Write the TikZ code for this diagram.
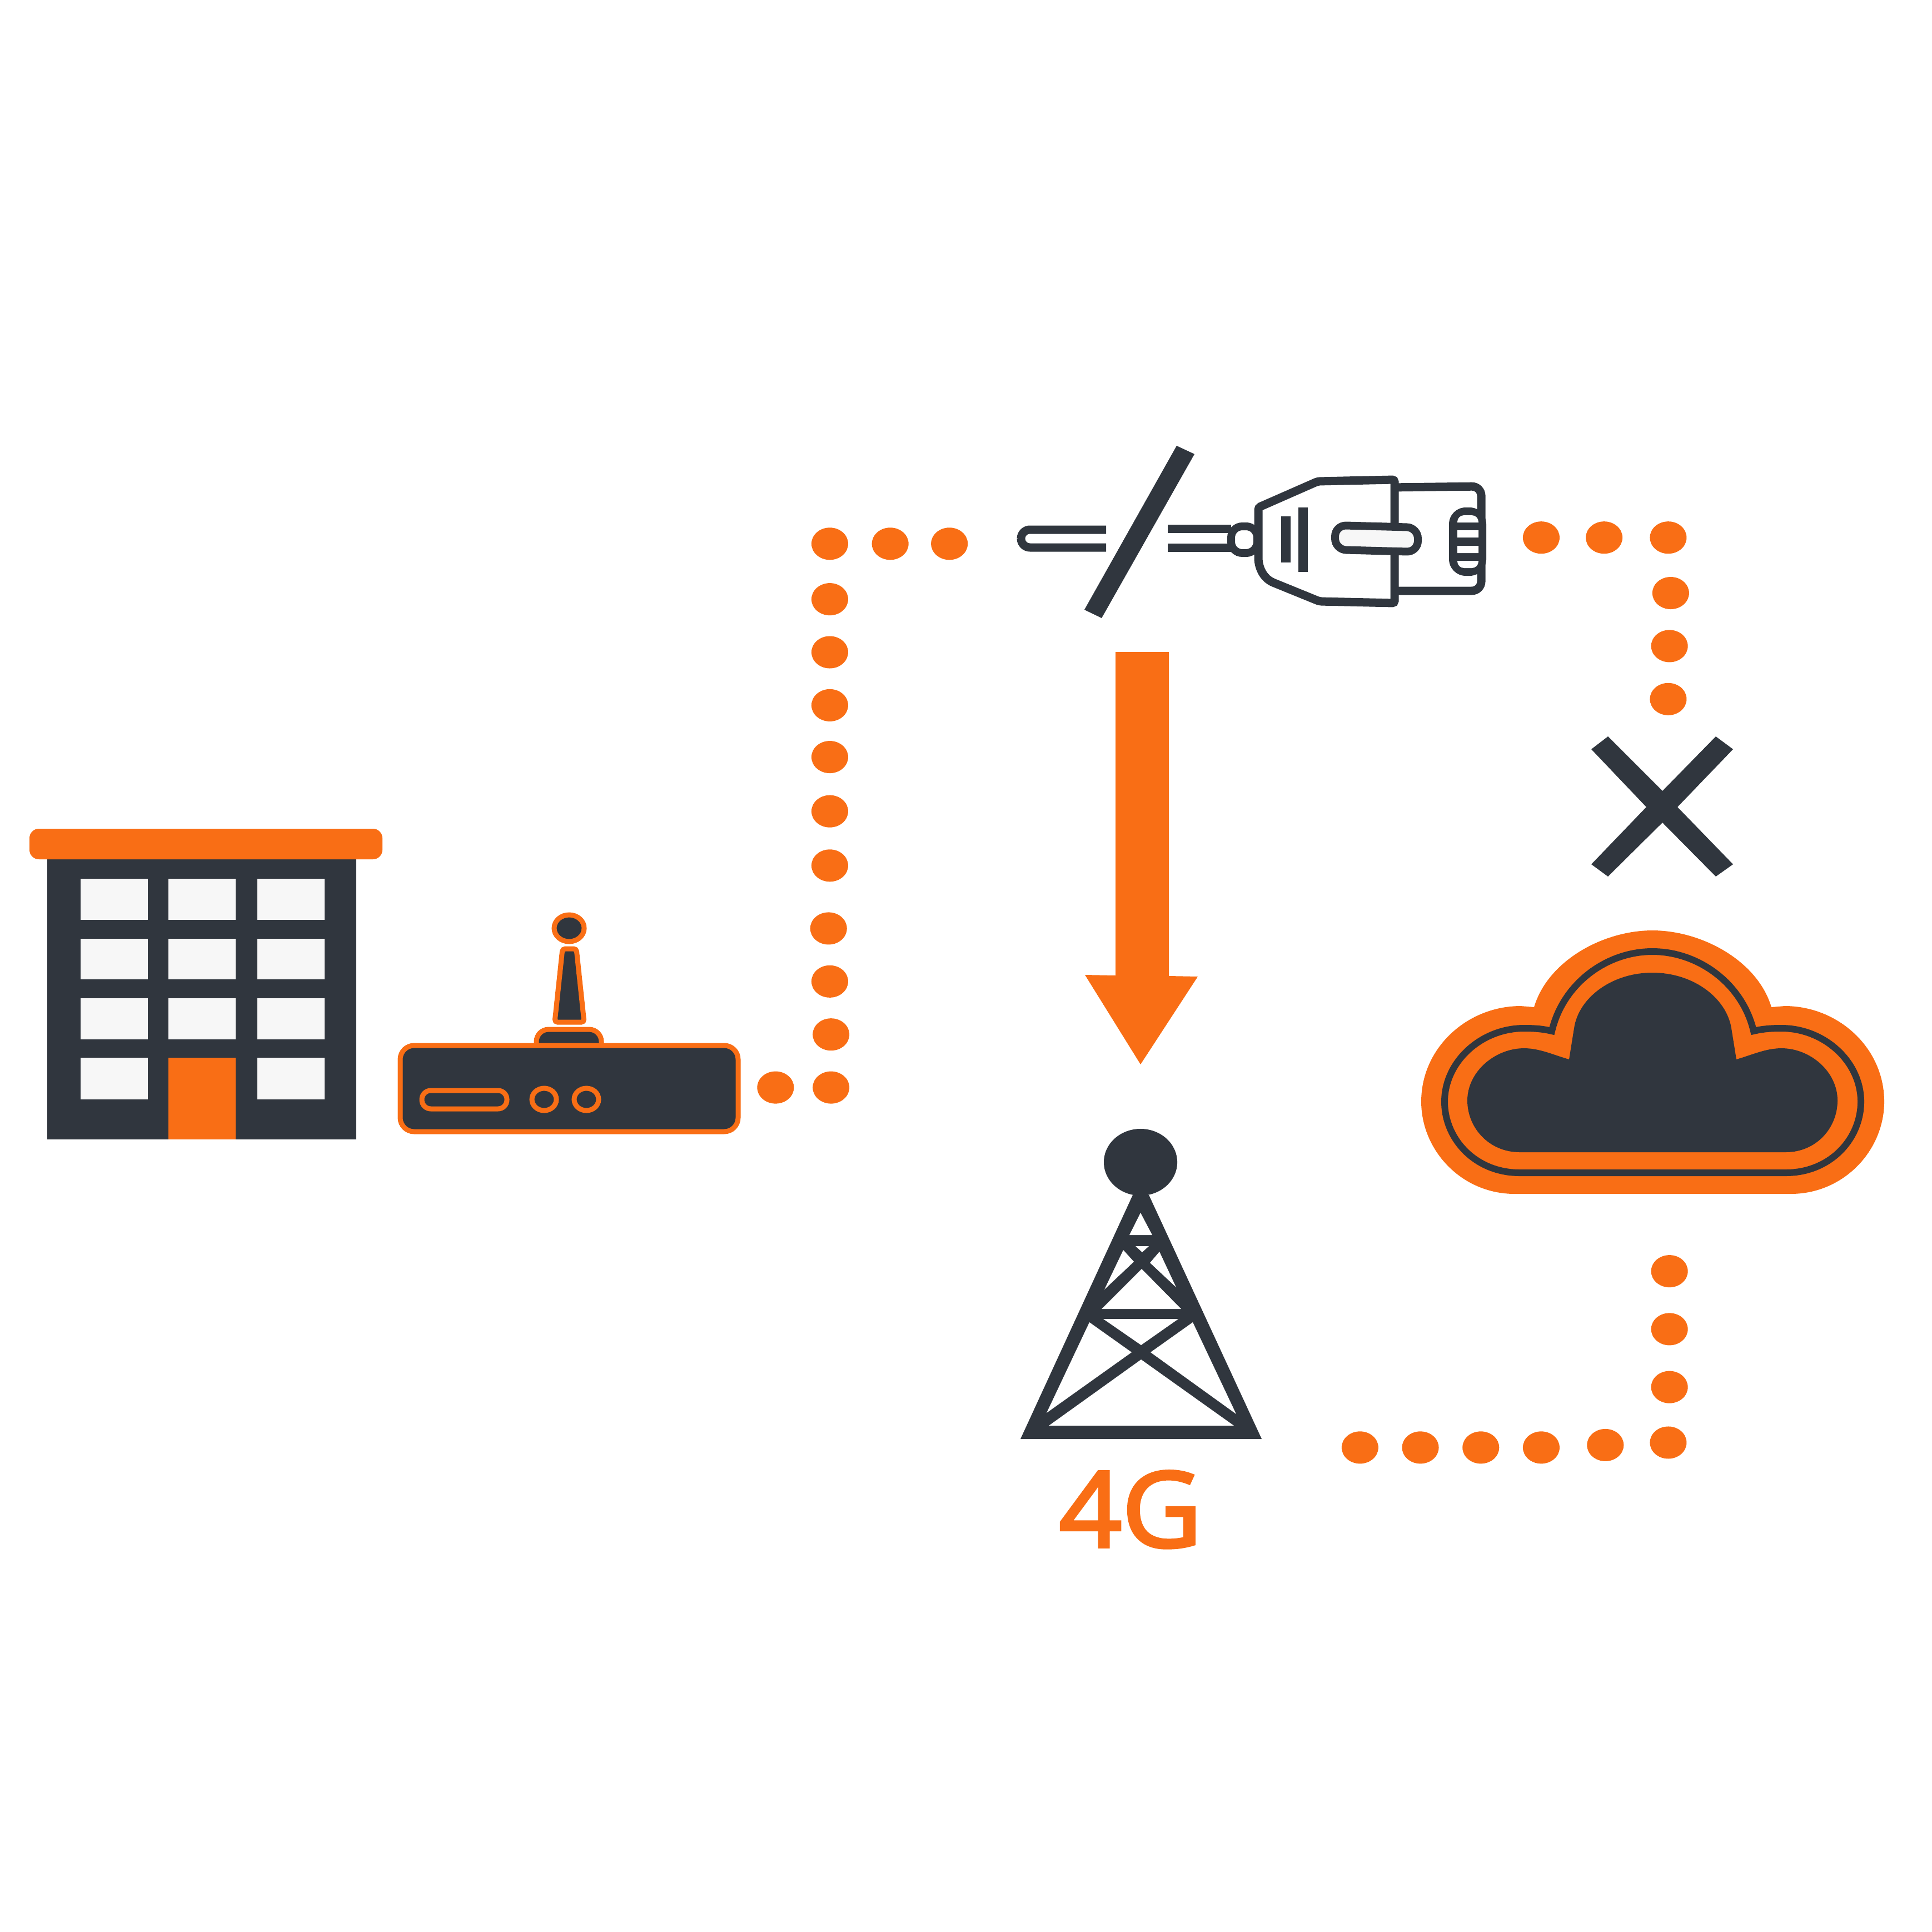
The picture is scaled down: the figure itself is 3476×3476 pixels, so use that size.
\documentclass[tikz,border=0pt]{standalone}
\usepackage{fontspec}
\newfontfamily\labelfont[FakeBold=3,FakeStretch=1.05]{Open Sans}
\definecolor{orng}{HTML}{F96E15}
\definecolor{drk}{HTML}{30363E}
\definecolor{pane}{HTML}{F7F7F7}
\tikzset{
  rout/.style={draw=orng,fill=drk,line width=0.09cm},
  plugline/.style={draw=drk,line width=0.15cm},
  dotmark/.style={fill=orng}
}
\begin{document}
\begin{tikzpicture}[x=0.01cm,y=-0.01cm]
\useasboundingbox (0,0) rectangle (3476,3476);
% building
\fill[drk] (85,1546) rectangle (641,2050);
\fill[orng,rounded corners=0.17cm] (53,1491) rectangle (688,1546);
\foreach \xa/\xb in {145/266,303/424,463/584}
  \foreach \ya/\yb in {1581/1655,1689/1762,1796/1870,1903/1978}
    \fill[pane] (\xa,\ya) rectangle (\xb,\yb);
\fill[orng] (303,1903) rectangle (424,2050);
% router
\draw[rout,rounded corners=0.22cm] (965,1885)--(965,1852)--(1082,1852)--(1082,1885);
\draw[rout,rounded corners=0.25cm] (720,1881) rectangle (1328,2036);
\draw[rout,rounded corners=0.16cm] (759,1962) rectangle (912,1995);
\draw[rout] (979,1978) ellipse (0.22cm and 0.20cm);
\draw[rout] (1055,1978) ellipse (0.22cm and 0.20cm);
\draw[rout] (1024,1670) ellipse (0.27cm and 0.24cm);
\draw[rout,rounded corners=0.05cm] (1012,1707)--(1037,1707)--(1051,1839)--(998,1839)--cycle;
% dots
\begin{scope}[x=0.02217cm,y=-0.02217cm]
\foreach \dx/\dy in {629/882,674/882,674/839,673/796,672/753,673/702,673/658,673/614,673/572,673/529,673/486,673/441,722/441,770/441,
  1250/436,1301/436,1353/436,1355/481,1354/524,1353/567,
  1103/1174,1152/1174,1201/1174,1250/1174,1302/1172,1353/1170,1354/1125,1354/1078,1354/1031}
  \fill[dotmark] (\dx,\dy) ellipse (0.33cm and 0.29cm);
\end{scope}
% slash
\fill[drk] (2117,802)--(2149,817)--(1982,1112)--(1951,1097)--cycle;
% cables
\draw[plugline,rounded corners=0.16cm] (1990,953)--(1837,953)--(1837,985)--(1990,985);
\draw[plugline] (2101,951)--(2215,951) (2101,985)--(2215,985);
% plug head
\draw[plugline,fill=white,rounded corners=0.17cm] (2500,877)--(2665,875)--(2665,1063)--(2500,1063);
\fill[drk,rounded corners=0.3cm] (2607,913) rectangle (2674,1036);
\fill[white] (2622,954) rectangle (2660,967) (2622,982) rectangle (2660,995);
\fill[white,rounded corners=0.12cm] (2622,940)--(2622,927)--(2660,927)[sharp corners]--(2660,940)--cycle;
\fill[white,rounded corners=0.12cm] (2622,1009)--(2622,1022)--(2660,1022)[sharp corners]--(2660,1009)--cycle;
% plug body
\draw[plugline,fill=white,rounded corners=0.04cm] (2264,913)--(2264,1000) .. controls (2264,1020) and (2272,1037) .. (2288,1047)--(2374,1082)--(2509,1085)--(2509,863)--(2371,866)--cycle;
\draw[plugline,line width=0.14cm,fill=white,rounded corners=0.2cm] (2215,947) rectangle (2262,995);
\draw[drk,line width=0.17cm] (2313,929)--(2313,1012) (2344,913)--(2344,1029);
\draw[plugline,line width=0.14cm,fill=pane,rounded corners=0.2cm] (2402,945)--(2551,949)--(2551,993)--(2402,989)--cycle;
% big arrow
\fill[orng] (2007,1173)--(2103,1173)--(2103,1756)--(2155,1757)--(2052,1915)--(1952,1754)--(2007,1755)--cycle;
% cross
\fill[drk] (2893,1325)--(2991,1423)--(3087,1325)--(3118,1348)--(3018,1452)--(3118,1555)--(3087,1577)--(2991,1480)--(2893,1577)--(2863,1555)--(2962,1452)--(2863,1348)--cycle;
% cloud
\fill[orng] (2725,2148) .. controls (2630,2148) and (2557,2070) .. (2557,1982)
  .. controls (2557,1885) and (2640,1810) .. (2736,1810) -- (2760,1812)
  .. controls (2785,1728) and (2885,1674) .. (2973,1674)
  .. controls (3061,1674) and (3162,1728) .. (3187,1812) -- (3211,1810)
  .. controls (3307,1810) and (3390,1885) .. (3390,1982)
  .. controls (3390,2070) and (3317,2148) .. (3222,2148) -- cycle;
\draw[draw=drk,fill=orng,line width=0.12cm] (2734,2110) .. controls (2655,2110) and (2599,2050) .. (2599,1982)
  .. controls (2599,1910) and (2665,1850) .. (2742,1850) .. controls (2760,1850) and (2775,1851) .. (2792,1855)
  .. controls (2812,1770) and (2890,1712) .. (2973,1712)
  .. controls (3056,1712) and (3135,1770) .. (3155,1855)
  .. controls (3172,1851) and (3187,1850) .. (3205,1850)
  .. controls (3282,1850) and (3348,1910) .. (3348,1982)
  .. controls (3348,2050) and (3292,2110) .. (3213,2110) -- cycle;
\fill[drk] (2734,2073) .. controls (2680,2073) and (2640,2030) .. (2640,1980)
  .. controls (2640,1928) and (2690,1886) .. (2742,1886)
  .. controls (2770,1886) and (2795,1898) .. (2823,1906)
  -- (2832,1850) .. controls (2840,1795) and (2900,1750) .. (2973,1750)
  .. controls (3046,1750) and (3106,1795) .. (3115,1850)
  -- (3124,1906) .. controls (3152,1898) and (3177,1886) .. (3205,1886)
  .. controls (3257,1886) and (3306,1928) .. (3306,1980)
  .. controls (3306,2030) and (3267,2073) .. (3213,2073) -- cycle;
% tower
\fill[drk] (2052,2091) ellipse (0.66cm and 0.60cm);
\fill[drk] (2038,2150)--(2067,2150)--(2270,2589)--(1836,2589)--cycle;
\fill[white] (2052,2182)--(2032,2222)--(2073,2222)--cycle
  (2043,2242)--(2067,2242)--(2055,2253)--cycle
  (2021,2249)--(2040,2270)--(1987,2320)--cycle
  (2086,2252)--(2069,2272)--(2116,2316)--cycle
  (2054,2283)--(2125,2355)--(1982,2355)--cycle
  (1985,2373)--(2120,2373)--(2053,2420)--cycle
  (1960,2379)--(2036,2433)--(1883,2542)--cycle
  (2146,2379)--(2070,2433)--(2224,2544)--cycle
  (2053,2446)--(2220,2565)--(1887,2565)--cycle;
\node[anchor=base,inner sep=0pt,text=orng] (label4g) at (2034,2783) {\labelfont\fontsize{53.5pt}{60pt}\selectfont 4G};
\end{tikzpicture}
\end{document}
